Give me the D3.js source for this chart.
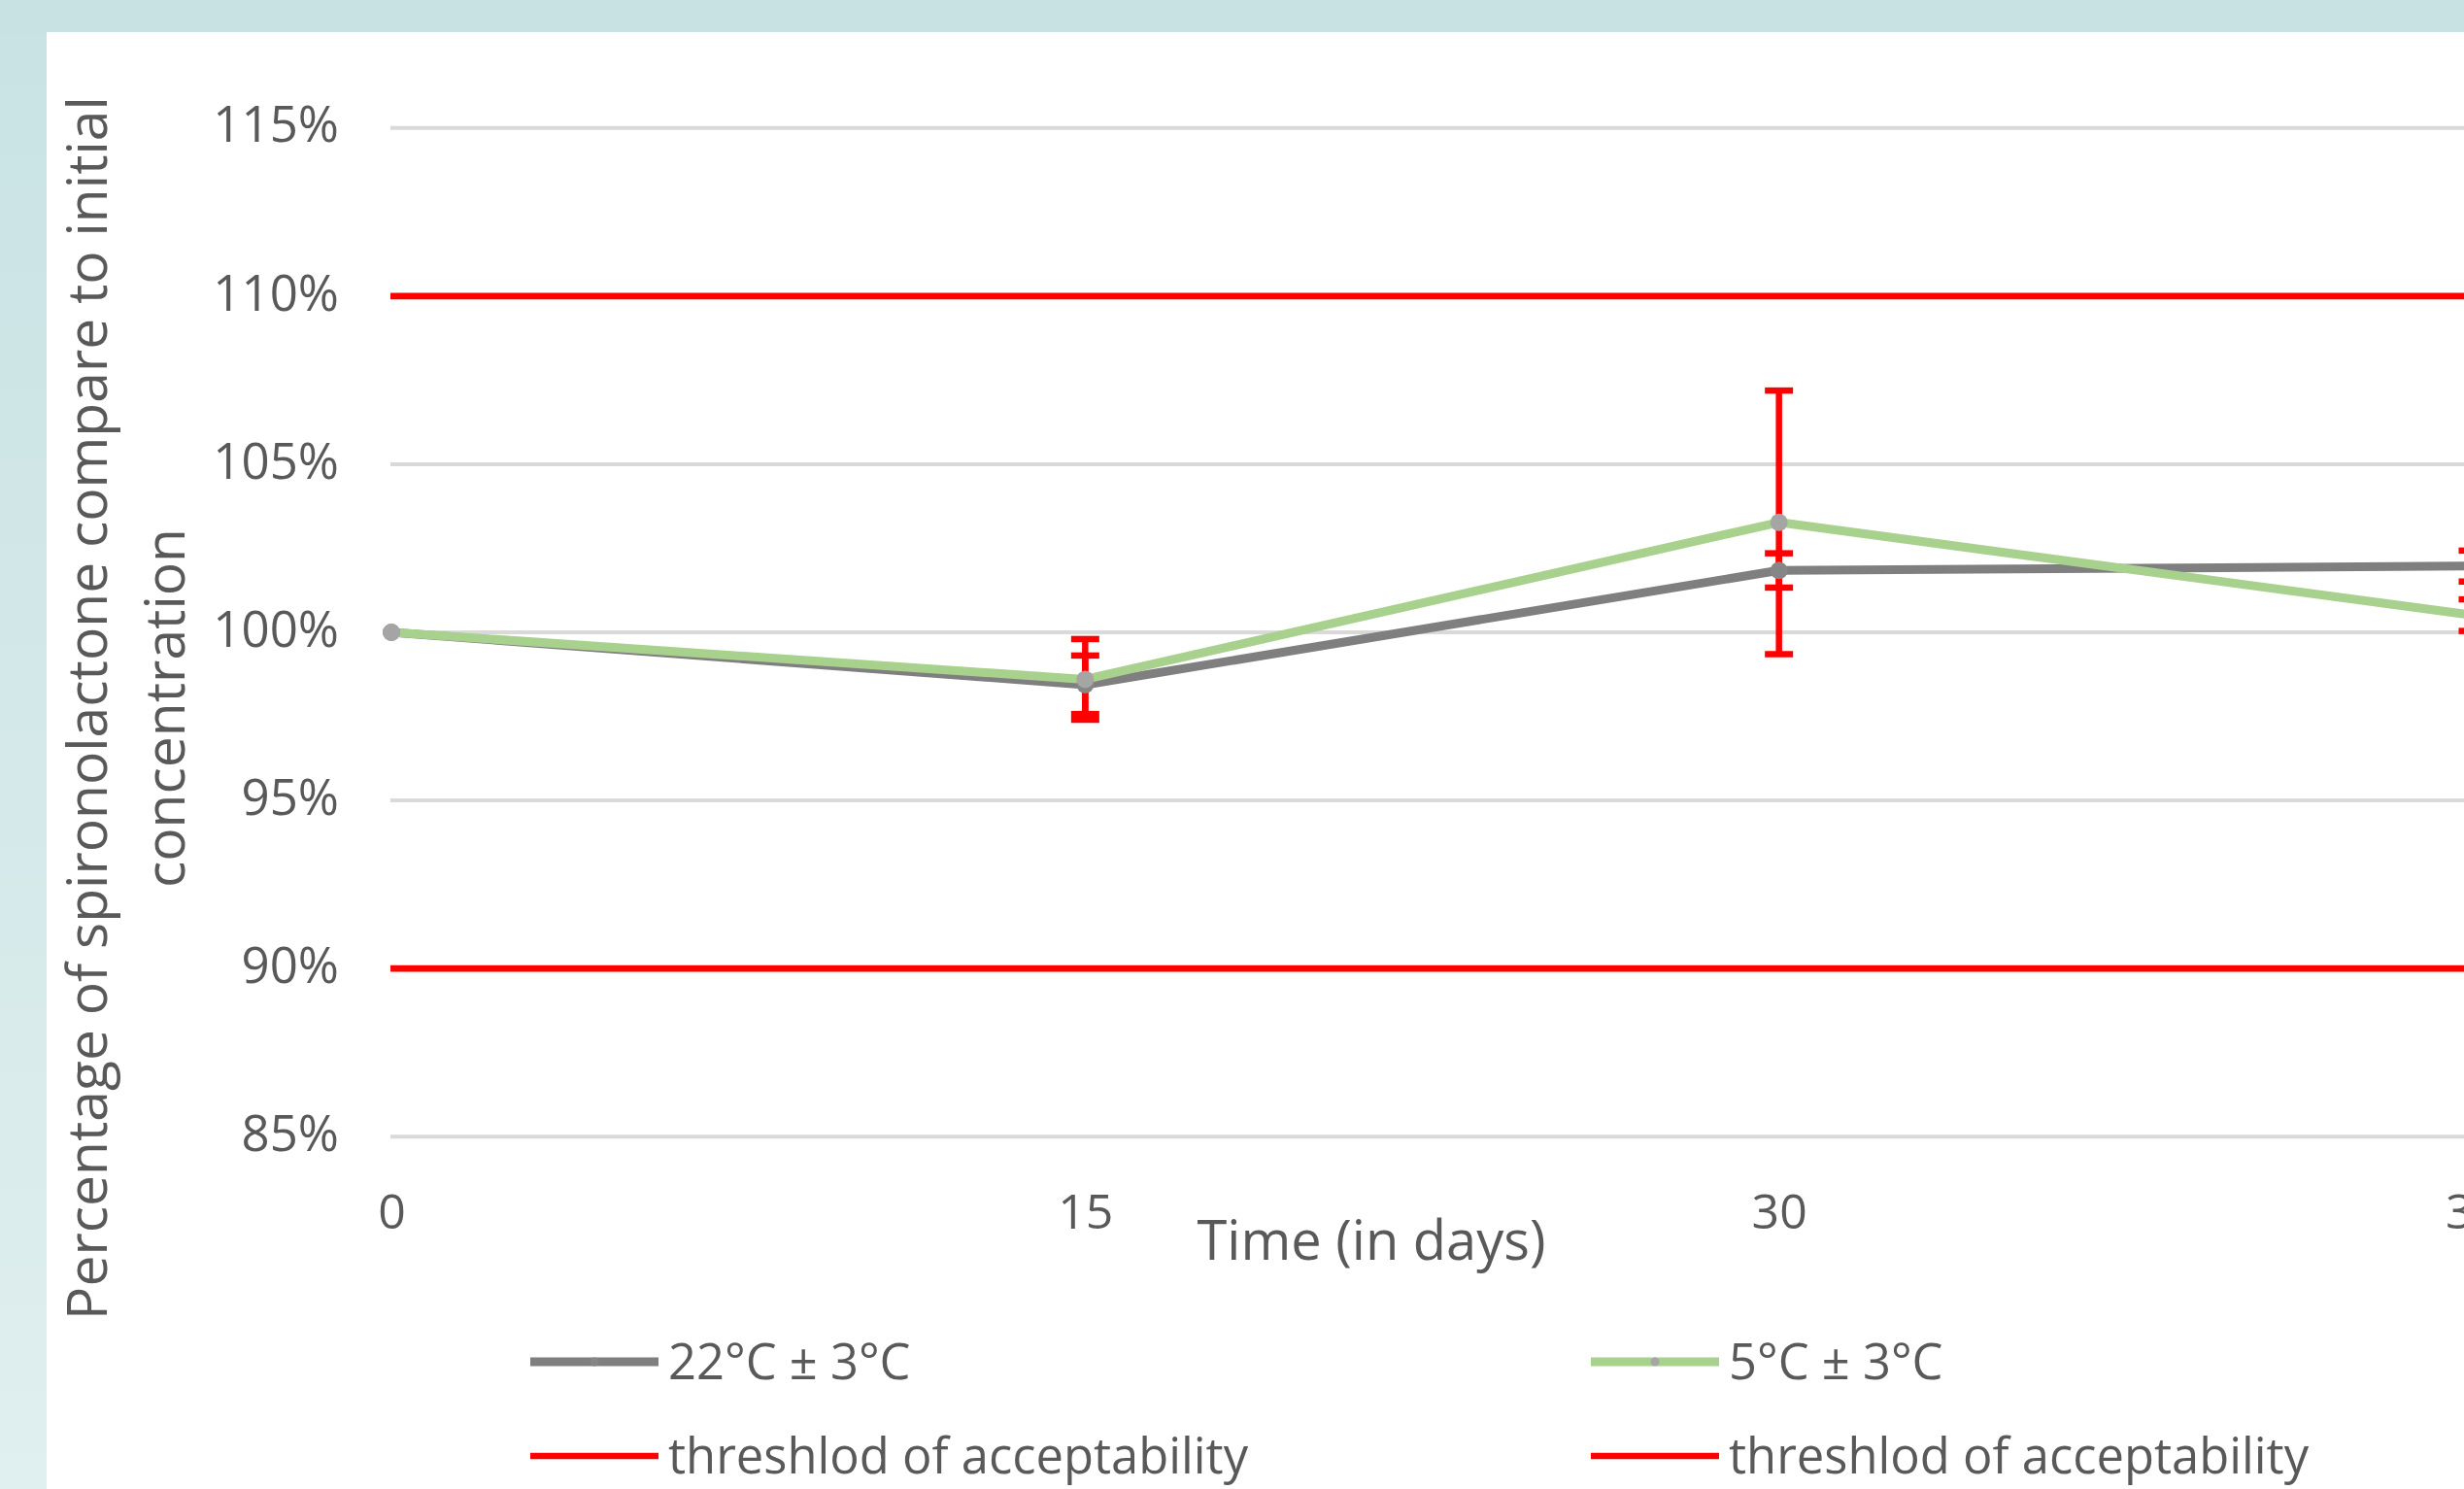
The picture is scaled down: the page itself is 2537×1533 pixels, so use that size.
<!DOCTYPE html>
<html>
<head>
<meta charset="utf-8">
<script src="https://cdn.jsdelivr.net/npm/d3@7"></script>
<style>
  html, body { margin: 0; padding: 0; background: #ffffff; }
  svg { display: block; }
  text { font-family: "Open Sans", sans-serif; fill: #595959; }
</style>
</head>
<body>
<svg id="chart" width="2537" height="1533"></svg>
<script>
// ---- data ----
const categories = ["0", "15", "30", "35"];      // time points (category axis; last label is cut at the edge)
const warm = [100, 98.44, 101.84, 101.97];      // 22°C ± 3°C
const warmErr = [0, 0.87, 0.51, 0.46];
const cold = [100, 98.6, 103.27, 100.51];       // 5°C ± 3°C
const coldErr = [0, 1.2, 3.92, 0.47];
const thresholds = [110, 90];
const yTicks = [85, 90, 95, 100, 105, 110, 115];
const seriesNames = ["22°C ± 3°C", "5°C ± 3°C", "threshlod of acceptability", "threshlod of acceptability"];
const xTitle = "Time (in days)";
const yTitleLines = ["Percentage of spironolactone compare to initial", "concentration"];

// ---- layout ----
const W = 2537, H = 1533;
const svg = d3.select("#chart");
const defs = svg.append("defs");
const grad = defs.append("linearGradient").attr("id", "leftband").attr("x1", 0).attr("y1", 0).attr("x2", 0).attr("y2", 1);
grad.append("stop").attr("offset", "0%").attr("stop-color", "#c8e2e3");
grad.append("stop").attr("offset", "100%").attr("stop-color", "#e0efef");

svg.append("rect").attr("x", 0).attr("y", 0).attr("width", W).attr("height", H).attr("fill", "#ffffff");
svg.append("rect").attr("x", 0).attr("y", 0).attr("width", 48).attr("height", H).attr("fill", "url(#leftband)");
svg.append("rect").attr("x", 0).attr("y", 0).attr("width", W).attr("height", 33).attr("fill", "#c8e2e3");

const x = d3.scalePoint().domain(categories).range([403, 2546]);
const y = d3.scaleLinear().domain([85, 115]).range([1170.3, 131.7]);
const fmtPct = d => d + "%";
const x0 = x(categories[0]);

// gridlines
svg.append("g").selectAll("line").data(yTicks).join("line")
  .attr("x1", x0 - 1).attr("x2", W)
  .attr("y1", d => y(d)).attr("y2", d => y(d))
  .attr("stroke", "#d9d9d9").attr("stroke-width", 4);

// y axis labels
const yAxis = d3.axisLeft(y).tickValues(yTicks).tickFormat(fmtPct).tickSize(0).tickPadding(54);
const gy = svg.append("g").attr("transform", `translate(${x0},0)`).call(yAxis);
gy.select(".domain").remove();
gy.selectAll("text").attr("font-size", 51).attr("fill", "#595959")
  .attr("font-family", "Open Sans, sans-serif").attr("dy", "0.28em");

// x axis labels
const xAxis = d3.axisBottom(x).tickSize(0).tickPadding(0);
const gx = svg.append("g").attr("transform", `translate(0,${y(85)})`).call(xAxis);
gx.select(".domain").remove();
gx.selectAll("text").attr("font-size", 50).attr("fill", "#595959")
  .attr("font-family", "Open Sans, sans-serif").attr("y", 95).attr("dy", 0);

// threshold lines
svg.append("g").selectAll("line").data(thresholds).join("line")
  .attr("x1", x0 - 1).attr("x2", W)
  .attr("y1", d => y(d)).attr("y2", d => y(d))
  .attr("stroke", "#ff0000").attr("stroke-width", 6.7);

// series lines
const line = d3.line().x((d, i) => x(categories[i])).y(d => y(d));
svg.append("path").datum(warm).attr("d", line).attr("fill", "none")
  .attr("stroke", "#7f7f7f").attr("stroke-width", 9).attr("stroke-linejoin", "round");
svg.append("path").datum(cold).attr("d", line).attr("fill", "none")
  .attr("stroke", "#a9d18e").attr("stroke-width", 9).attr("stroke-linejoin", "round");

// error bars
function errorBars(vals, errs) {
  const g = svg.append("g");
  vals.forEach((v, i) => {
    if (!errs[i]) return;
    const cx = x(categories[i]);
    const top = y(v + errs[i]), bot = y(v - errs[i]);
    g.append("line").attr("x1", cx).attr("x2", cx).attr("y1", top).attr("y2", bot)
      .attr("stroke", "#ff0000").attr("stroke-width", 6.5);
    [top, bot].forEach(yy => {
      g.append("line").attr("x1", cx - 14.5).attr("x2", cx + 14.5).attr("y1", yy).attr("y2", yy)
        .attr("stroke", "#ff0000").attr("stroke-width", 6.5);
    });
  });
}
errorBars(warm, warmErr);
errorBars(cold, coldErr);

// markers
svg.append("g").selectAll("circle").data(warm).join("circle")
  .attr("cx", (d, i) => x(categories[i])).attr("cy", d => y(d)).attr("r", 9).attr("fill", "#868686");
svg.append("g").selectAll("circle").data(cold).join("circle")
  .attr("cx", (d, i) => x(categories[i])).attr("cy", d => y(d)).attr("r", 9).attr("fill", "#a5a5a5");

// axis titles
svg.append("text").attr("x", 1412).attr("y", 1297).attr("text-anchor", "middle")
  .attr("font-size", 56).text(xTitle);

const yt = svg.append("text").attr("transform", "translate(110,729) rotate(-90)")
  .attr("text-anchor", "middle").attr("font-size", 57);
yTitleLines.forEach((t, i) => {
  yt.append("tspan").attr("x", 0).attr("y", i * 80).text(t);
});

// legend
const legend = [
  { name: seriesNames[0], color: "#7f7f7f", w: 9, marker: "#868686", lx: 546, ly: 1402 },
  { name: seriesNames[1], color: "#a9d18e", w: 9, marker: "#a5a5a5", lx: 1638, ly: 1402 },
  { name: seriesNames[2], color: "#ff0000", w: 6.7, marker: null, lx: 546, ly: 1499 },
  { name: seriesNames[3], color: "#ff0000", w: 6.7, marker: null, lx: 1638, ly: 1499 }
];
const lg = svg.append("g").selectAll("g").data(legend).join("g");
lg.append("line").attr("x1", d => d.lx).attr("x2", d => d.lx + 132)
  .attr("y1", d => d.ly).attr("y2", d => d.ly)
  .attr("stroke", d => d.color).attr("stroke-width", d => d.w);
lg.filter(d => d.marker).append("circle").attr("cx", d => d.lx + 66).attr("cy", d => d.ly)
  .attr("r", 4.5).attr("fill", d => d.marker);
lg.append("text").attr("x", d => d.lx + 142).attr("y", d => d.ly + 18)
  .attr("font-size", 50.7).text(d => d.name);
</script>
</body>
</html>
